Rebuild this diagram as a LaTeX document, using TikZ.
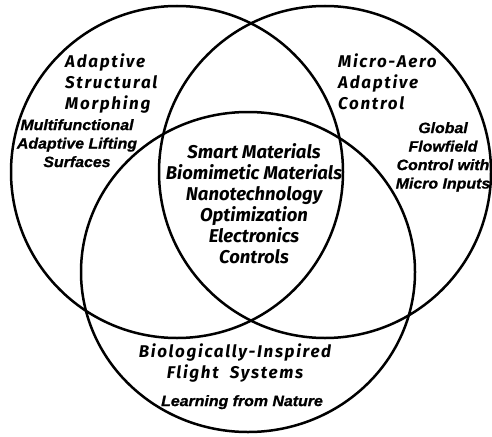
\documentclass[tikz,border=0pt]{standalone}
\usepackage{fontspec}
\setmainfont{Liberation Sans}
\newfontfamily\notefont[FakeStretch=1.06,FakeBold=1]{Liberation Sans}
\newfontfamily\headfont[LetterSpace=10]{Fira Sans}
\newfontfamily\corefont{Fira Sans}
\usepackage{tikz}
\usetikzlibrary{shapes,positioning}

\tikzset{
	ring/.style={draw,line width=2.5pt,circle,inner sep=0pt,outer sep=0pt},
	head/.style={font=\headfont\bfseries\itshape\fontsize{17}{21}\selectfont,inner sep=0pt},
	note/.style={font=\notefont\bfseries\itshape\fontsize{15}{18.5}\selectfont,inner sep=0pt,align=center},
	core/.style={font=\corefont\bfseries\itshape\fontsize{18.5}{21}\selectfont,inner sep=0pt,align=center}
}

\begin{document}
\begin{tikzpicture}[x=1pt,y=-1pt]
		\useasboundingbox (0,0) rectangle (492,436);
		% the three fields
		\node (adapt) [ring,minimum size=332pt] at (177,172) {};
		\node (micro) [ring,minimum size=332pt] at (325,172) {};
		\node (bio) [ring,ellipse,minimum width=334pt,minimum height=320pt] at (248,272) {};
		% field titles
		\node (asm) [head,align=left,anchor=north west] at (65,54) {Adaptive\\Structural\\Morphing};
		\node (maac) [head,align=left,anchor=north west] at (338,54) {Micro-Aero\\Adaptive\\Control};
		\node (bifs) [head,align=center,anchor=north] at (235,344) {Biologically-Inspired\\Flight\ \ Systems};
		% examples
		\node (mals) [note,anchor=north] at (77,119) {Multifunctional\\Adaptive Lifting\\Surfaces};
		\node (gfc) [note,anchor=north] at (443,122) {Global\\Flowfield\\Control with\\Micro Inputs};
		\node (lfn) [note,anchor=north] at (242,395) {Learning from Nature};
		% common technologies
		\node (tech) [core,anchor=north] at (254,143) {Smart Materials\\Biomimetic Materials\\Nanotechnology\\Optimization\\Electronics\\Controls};
	\end{tikzpicture}
\end{document}
